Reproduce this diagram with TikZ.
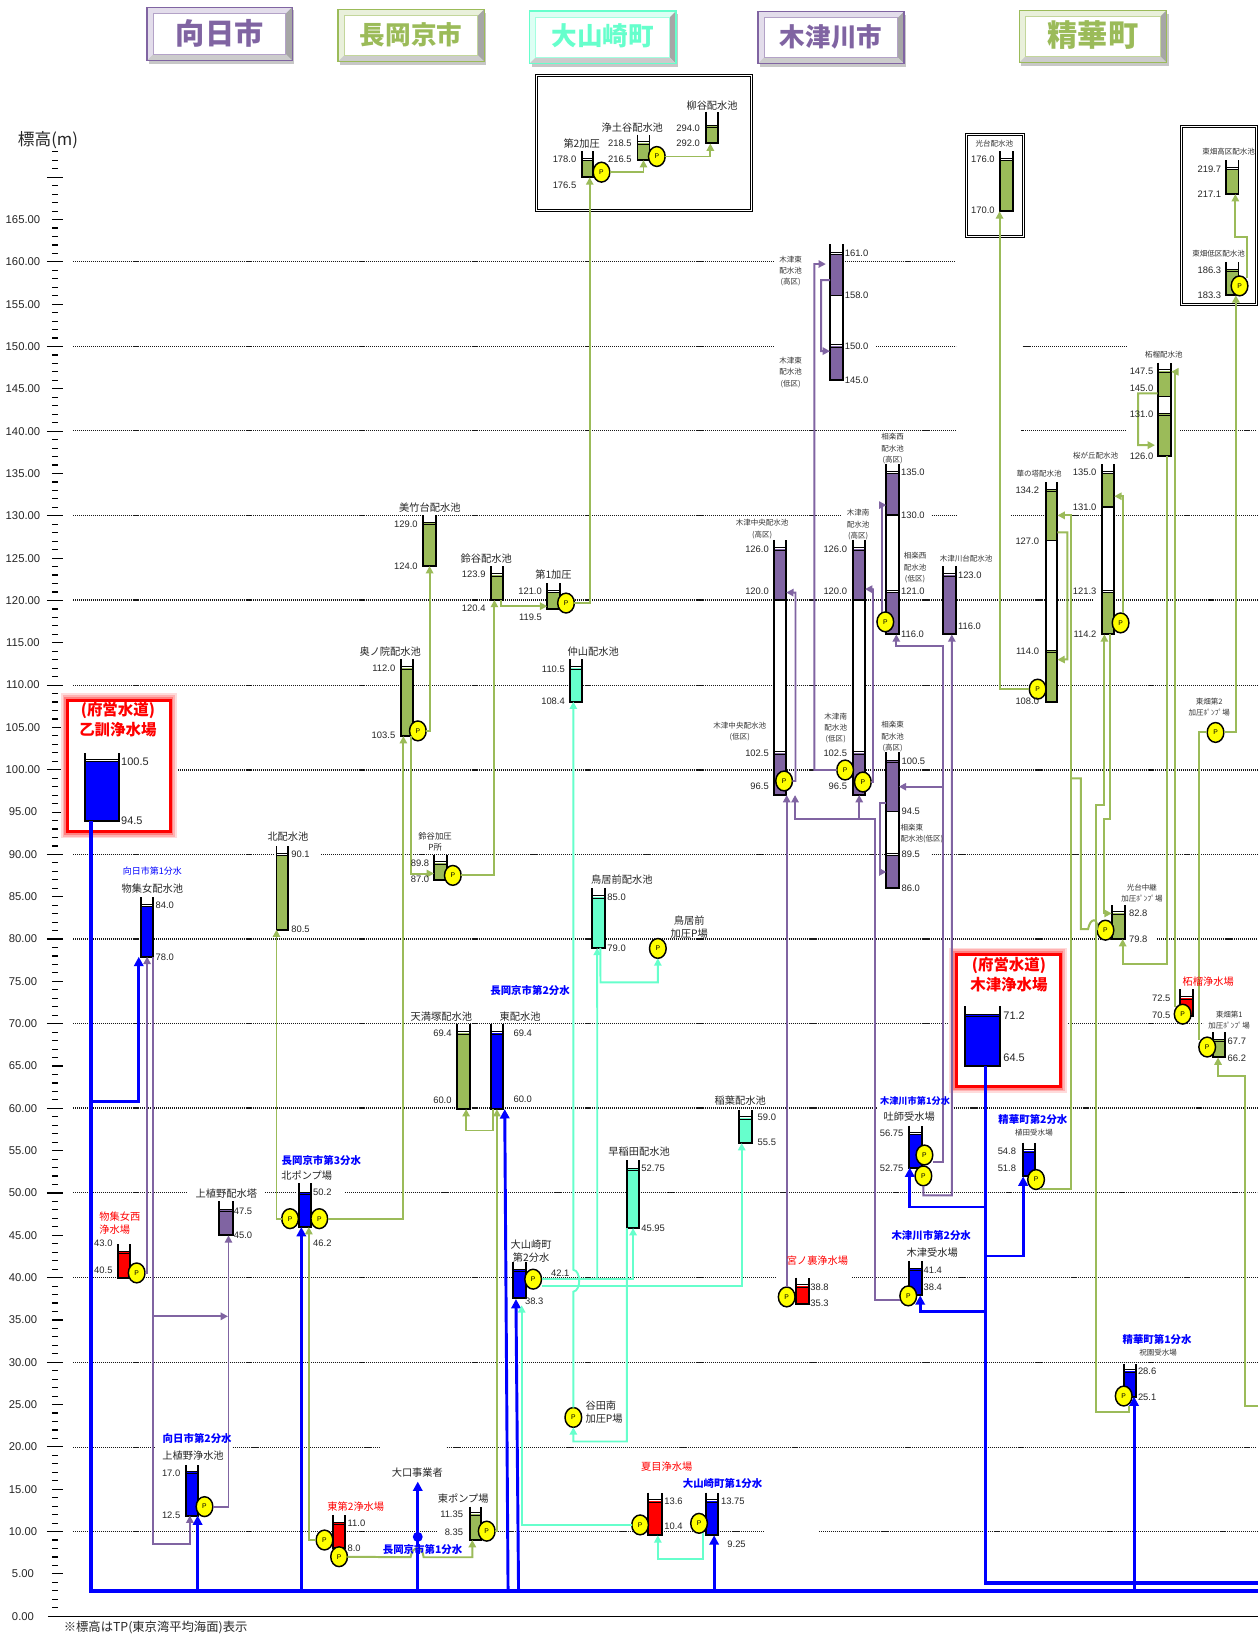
\documentclass[tikz,border=0pt]{standalone}
\usepackage{fontspec}
\setmainfont{Liberation Sans}
\newfontfamily\jp{Noto Sans CJK JP}
\usetikzlibrary{arrows.meta,calc,fit,shapes.geometric}
\definecolor{cP}{HTML}{8064A2}
\definecolor{cG}{HTML}{9BBB59}
\definecolor{cQ}{HTML}{66FFCC}
\definecolor{cB}{HTML}{0000FF}
\definecolor{cR}{HTML}{FF0000}
\definecolor{cY}{HTML}{FFFF00}
\tikzset{
  gridl/.style={black!90,line width=1.1pt,dash pattern=on 1pt off .9pt},
  tickl/.style={black,line width=1.1pt},
  wall/.style={black,line width=1.9pt,line join=miter},
  lvl/.style={black,line width=.7pt},
  tanknode/.style={inner sep=0,outer sep=0},
  pump/.style={ellipse,draw=black,line width=1.4pt,fill=cY,inner sep=0,outer sep=0,
    minimum width=16pt,minimum height=19pt,font=\fontsize{6.5}{6.5}\selectfont},
  frame/.style={draw=black,fill=white,double,double distance=.9pt,line width=.9pt},
  val/.style={font=\fontsize{9}{9}\selectfont,inner sep=0,text=black!85},
  valbig/.style={font=\fontsize{10.5}{10.5}\selectfont,inner sep=0,text=black!85},
  axl/.style={font=\fontsize{10.8}{10.8}\selectfont,inner sep=0,text=black!85},
  lbl/.style={font=\jp\fontsize{9.8}{12.5}\selectfont,inner sep=0,align=center,text=black!85},
  sml/.style={font=\jp\fontsize{7.2}{10.8}\selectfont,inner sep=0,align=center,text=black!80},
  bluel/.style={font=\jp\bfseries\fontsize{10}{10}\selectfont,inner sep=0,text=cB},
  redl/.style={font=\jp\fontsize{9.8}{12.5}\selectfont,inner sep=0,align=left,text=cR},
  redb/.style={font=\jp\bfseries\fontsize{14.8}{19}\selectfont,inner sep=0,align=center,text=cR},
  gline/.style={cG,line width=1.9pt},
  gpipe/.style={gline,-{Triangle[length=7pt,width=7pt]}},
  ppipe/.style={cP,line width=1.8pt,-{Triangle[length=7pt,width=7pt]}},
  qpipe/.style={cQ,line width=1.8pt,-{Triangle[length=7pt,width=7pt]}},
  bpipe/.style={cB,line width=2.8pt,-{Triangle[length=9pt,width=9pt]}},
  bmain/.style={cB,line width=3.6pt},
}
\newcommand{\tank}[7]{
  \fill[white] (#2,#4) rectangle (#3,#6);
  \fill[#7] (#2,#5) rectangle (#3,#6);
  \draw[lvl] (#2,#5-1.1) -- (#3,#5-1.1);
  \draw[lvl] (#2,#5+1.1) -- (#3,#5+1.1);
  \draw[wall] (#2,#4) -- (#2,#6) -- (#3,#6) -- (#3,#4);
  \node[fit={(#2,#4) (#3,#6)},tanknode] (#1) {};
}
\newcommand{\tankii}[9]{
  \fill[white] (#2,#4) rectangle (#3,#8);
  \fill[#9] (#2,#5) rectangle (#3,#6);
  \fill[#9] (#2,#7) rectangle (#3,#8);
  \draw[lvl] (#2,#5-1.1) -- (#3,#5-1.1);
  \draw[lvl] (#2,#5+1.1) -- (#3,#5+1.1);
  \draw[lvl] (#2,#7-1.1) -- (#3,#7-1.1);
  \draw[lvl] (#2,#7+1.1) -- (#3,#7+1.1);
  \draw[black,line width=1.4pt] (#2,#6) -- (#3,#6);
  \draw[wall] (#2,#4) -- (#2,#8) -- (#3,#8) -- (#3,#4);
  \node[fit={(#2,#4) (#3,#8)},tanknode] (#1) {};
}
\newcommand{\hdr}[8]{
  \fill[black!22] (#2+2,#3+3) rectangle (#4+2,#5+3);
  \fill[#6!22] (#2,#3) rectangle (#4,#5);
  \fill[black!35] (#4,#3) -- (#4,#5) -- (#4-6,#5-6) -- (#4-6,#3+6) -- cycle;
  \fill[black!20] (#2,#5) -- (#4,#5) -- (#4-6,#5-6) -- (#2+6,#5-6) -- cycle;
  \draw[#6,line width=1.2pt] (#2,#3) rectangle (#4,#5);
  \draw[#6!60,fill=white,line width=.8pt] (#2+6,#3+6) rectangle (#4-6,#5-6);
  \node[font=\jp\bfseries\fontsize{#7}{#7}\selectfont,text=#6,inner sep=0] (#1)
    at ({(#2+#4)/2},{(#3+#5)/2-1}) {#8};
}
\newcommand{\redbox}[4]{
  \draw[cR!14,line width=13pt] (#1,#2) rectangle (#3,#4);
  \draw[cR!30,line width=10pt] (#1,#2) rectangle (#3,#4);
  \draw[cR!50,line width=6.5pt] (#1,#2) rectangle (#3,#4);
  \draw[cR,line width=2.8pt,fill=white] (#1,#2) rectangle (#3,#4);
}
\begin{document}
\begin{tikzpicture}[x=1pt,y=-1pt]
  \useasboundingbox[fill=white] (0,0) rectangle (1206,1568);
  \foreach \y/\a/\b in {251/70/742,251/808/916,332/70/742,332/840/916,332/980/1080,
      413/70/916,413/979/1079,413/1131/1205,494/70/807,494/893/916,494/969/1205,
      575/70/1047,575/1068/1205,657/70/1205,738/70/1205,819/70/262,819/308/848,819/893/1205,
      900/70/1078,900/1109/1205,981/70/1153,1062/70/840,1062/914/1205,1143/70/180,1143/254/284,
      1143/331/1205,1224/70/743,1224/817/1205,1306/70/1205,1387/70/149,1387/223/364,
      1387/428/1205,1468/70/418,1468/475/732,1468/785/1205}
    {\draw[gridl] (\a,\y) -- (\b,\y);}
  \foreach \i in {1,...,173}
    {\draw[tickl] (50,{1549-8.1125*\i}) -- (56,{1549-8.1125*\i});}
  \foreach \i in {10,20,...,170}
    {\draw[tickl] (45,{1549-8.1125*\i}) -- (60,{1549-8.1125*\i});}
  \foreach \i in {5,15,...,165}
    {\draw[tickl] (50,{1549-8.1125*\i}) -- (60,{1549-8.1125*\i});}
  \draw[black,line width=1.1pt] (46,1549) -- (1206,1549);
  \foreach \v in {0,5,...,165}
    {\node[axl] (ax\v) at (22,{1549-8.1125*\v}) {\v.00};}
  \node[font=\jp\fontsize{16}{16}\selectfont,inner sep=0,text=black!85] (axT) at (46,134) {標高(m)};
  \node[font=\jp\fontsize{11.8}{12}\selectfont,inner sep=0,anchor=west,text=black!85] (noteT) at (61,1560) {※標高はTP(東京湾平均海面)表示};

  \hdr{hMuk}{141}{7}{280}{58}{cP}{28}{向日市}
  \hdr{hNag}{324}{9}{464}{59}{cG}{24.5}{長岡京市}
  \hdr{hOya}{507.5}{10.5}{648}{61}{cQ}{24.5}{大山崎町}
  \hdr{hKiz}{726.5}{11}{866.5}{61}{cP}{24.5}{木津川市}
  \hdr{hSei}{977}{10}{1118}{60}{cG}{29}{精華町}

  \redbox{65}{671}{163}{797}
  \redbox{916.5}{915}{1016}{1041}
  \draw[frame] (514.5,72.5) rectangle (720.5,202);
  \draw[frame] (926.5,129) rectangle (981,227);
  \draw[frame] (1132,121) rectangle (1204.5,292);

  \tank{tOto}{81}{114}{722}{729}{787}{cB}
  \tank{tMoz}{135}{147}{860}{868}{917}{cB}
  \tank{tKit}{265}{276}{811}{819}{891}{cG}
  \tank{tMzn}{113.5}{125}{1192.5}{1200}{1225}{cR}
  \tank{tKuh}{210}{223}{1151.5}{1160}{1184}{cP}
  \tank{tKnp}{287}{298}{1134}{1143.5}{1176}{cB}
  \tank{tKus}{178}{190}{1404}{1411}{1452.5}{cB}
  \tank{tHn2}{319}{331}{1452}{1460}{1484}{cR}
  \tank{tHnp}{450}{461}{1444}{1451}{1476}{cG}
  \tank{tTen}{438}{450.5}{981}{990}{1063}{cG}
  \tank{tHig}{470.5}{482}{981}{990}{1063}{cB}
  \tank{tOy2}{492}{504}{1210}{1217.5}{1244}{cB}
  \tank{tNat}{621.5}{634.5}{1430.5}{1438.5}{1471.5}{cR}
  \tank{tOy1}{676.5}{688}{1430.5}{1438.5}{1471.5}{cB}
  \tank{tWas}{601}{612.5}{1112}{1120.5}{1177}{cQ}
  \tank{tIna}{708.5}{720.5}{1063.5}{1071.5}{1095.5}{cQ}
  \tank{tBik}{405.5}{418}{494}{501.5}{542.5}{cG}
  \tank{tSuz}{470.5}{482}{542.5}{551}{575}{cG}
  \tank{tKa1}{524.5}{536.5}{559}{567}{584}{cG}
  \tank{tOku}{384}{396}{632}{640}{705.5}{cG}
  \tank{tNak}{546.5}{558}{632}{640}{672.5}{cQ}
  \tank{tSkp}{416}{428.5}{819}{827}{843.5}{cG}
  \tank{tTor}{567.5}{580}{851.5}{859.5}{908.5}{cQ}
  \tank{tKa2}{557.5}{568.5}{145}{153}{170}{cG}
  \tank{tJod}{611}{622.5}{129}{137}{153.5}{cG}
  \tank{tYan}{677}{688}{107}{121}{137.5}{cG}
  \tank{tKod}{958}{970.5}{145}{153}{202.5}{cG}
  \tank{tHth}{1175}{1187}{153.5}{161.5}{186}{cG}
  \tank{tHtl}{1175}{1187}{251}{259}{283}{cG}
  \tankii{tKhg}{795.5}{808}{234}{243}{283}{331.5}{364.5}{cP}
  \tankii{tKch}{742}{753.5}{517.5}{526}{575}{721.5}{762}{cP}
  \tankii{tKmn}{818}{829}{517.5}{526}{575}{721.5}{762}{cP}
  \tankii{tSnw}{849.5}{861.5}{445}{453}{493.5}{567}{608}{cP}
  \tankii{tSgh}{849.5}{861.5}{721}{729.5}{778}{819}{851}{cP}
  \tank{tKkd}{904}{916.5}{542.5}{551}{608}{cP}
  \tankii{tHan}{1002.5}{1013.5}{462}{470}{518}{624}{672.5}{cG}
  \tankii{tSak}{1056}{1068}{445}{453}{486}{567}{608}{cG}
  \tankii{tZak}{1109.5}{1122.5}{347.5}{355.5}{380}{397}{437}{cG}
  \tank{tKcp}{1065.5}{1078}{867.5}{875}{900}{cG}
  \tank{tKiz}{925}{958.5}{964.5}{973}{1022}{cB}
  \tank{tHbs}{871}{883.5}{1079}{1086.5}{1119}{cB}
  \tank{tUet}{980}{991.5}{1095}{1103}{1127.5}{cB}
  \tank{tKjw}{871}{883.5}{1209}{1216.5}{1241.5}{cB}
  \tank{tMiy}{763}{775}{1224.5}{1232.5}{1249.5}{cR}
  \tank{tHos}{1077}{1089}{1307}{1314}{1338.5}{cB}
  \tank{tZaj}{1130.5}{1143}{948}{956.5}{973.5}{cR}
  \tank{tHt1}{1163}{1174.5}{989.5}{997}{1013.5}{cG}

  \foreach \n/\x/\y in {pMzn/131/1220,pKnl/278/1168,pKnr/306/1168,pKus/196/1444,pHnl/311/1476,
      pHnd/325/1492,pHnp/466.5/1467.5,pOy2/511/1226,pTnm/549.5/1358.5,pNat/613.5/1461.5,
      pOy1/670/1460,pOku/400.5/700.5,pSkp/434/839,pKa1/542.5/578,pTor/630.5/909,pKa2/576.5/165,
      pJod/629.5/150,pKch/751.5/748.5,pKml/810/738,pKmr/827/749.5,pSnw/848.5/596,pHan/994.5/660.5,
      pSak/1074/597,pHt2/1165/702,pKcp/1059.5/891.5,pHtl/1188/274,pHb1/886/1107,pHb2/885/1127,
      pUet/993/1130.5,pKjw/870.5/1242,pMiy/754/1243,pHos/1077/1338,pZaj/1133.5/972,pHt1/1157/1003.5}
    {\node[pump] (\n) at (\x,\y) {P};}

  \coordinate (mEnd) at (1206,1525);
  \coordinate (kEnd) at (1206,1517);
  \coordinate (oEnd) at (400.4,1420);
  \node[circle,fill=cB,inner sep=0,minimum size=9.5pt] (oDot) at (400.4,1473) {};
  \draw[bmain] ([xshift=-10.5pt]tOto.south) |- (mEnd);
  \draw[bmain] ([xshift=2.75pt]tKiz.south) |- (kEnd);
  \coordinate (jA) at (87,1056);
  \draw[bpipe] (jA) -| ([xshift=-8pt]tMoz.south);
  \draw[bpipe] ([xshift=5.4pt]tKus.south |- mEnd) -- ([xshift=5.4pt]tKus.south);
  \draw[bpipe] ([xshift=-3.7pt]tKnp.south |- mEnd) -- ([xshift=-3.7pt]tKnp.south);
  \draw[bpipe] (oEnd |- mEnd) -- (oEnd);
  \draw[bpipe] ([xshift=10.7pt]tHig.south |- mEnd) -- ([xshift=7.5pt]tHig.south);
  \draw[bpipe] ([xshift=-1pt]tOy2.south |- mEnd) -- ([xshift=-3.5pt,yshift=-1pt]tOy2.south);
  \draw[bpipe] ([xshift=2.2pt]tOy1.south |- mEnd) -- ([xshift=2.2pt]tOy1.south);
  \draw[bpipe] ([xshift=3.9pt]tHos.south |- mEnd) -- ([xshift=3.9pt]tHos.south);
  \coordinate (kA) at (944.3,1156.8);
  \coordinate (kB) at (944.3,1203.8);
  \coordinate (kC) at (944.3,1256.6);
  \draw[bpipe] (kA) -| ([xshift=-5.3pt]tHbs.south);
  \draw[bpipe] (kB) -| ([xshift=-5.15pt]tUet.south);
  \draw[bpipe] (kC) -| ([xshift=4.7pt]tKjw.south);

  \draw[gpipe] (pHnl) -| ([xshift=3.5pt]tKnp.south);
  \draw[gpipe] (pHnd) -- (393.5,1492.5) .. controls (395,1481) and (405,1481) .. (406,1492.5) -| ([xshift=-2.8pt]tHnp.south);
  \draw[gpipe] (pKnl) -| ([xshift=-5.5pt]tKit.south);
  \draw[gpipe] (pKnr) -| ([xshift=-3.4pt]tOku.south);
  \draw[gpipe] (pOku) -| (tBik.south);
  \draw[gpipe] ([xshift=3.7pt]tOku.south) |- ([yshift=-6pt]tSkp.west);
  \draw[gpipe] (pSkp) -| ([xshift=-2.4pt]tSuz.south);
  \draw[gpipe] ([xshift=3.8pt]tSuz.south) |- ([yshift=-9.5pt]tKa1.west);
  \draw[gpipe] (pKa1) -| ([xshift=2.2pt]tKa2.south);
  \draw[gpipe] (pKa2) -| (tJod.south);
  \draw[gpipe] (pJod) -| ([xshift=-1.7pt]tYan.south);
  \draw[gpipe] (pHnp) -| (tHig.south);
  \draw[gpipe] ([xshift=-4pt]tHig.south) -- ++(0,20.5) -| ([xshift=2.5pt]tTen.south);
  \draw[gpipe] (pHan) -| ([xshift=-6.25pt]tKod.south);
  \draw[gpipe] (pUet.-60) |- (1026.4,1139.6) |- ([yshift=73.3pt]tHan.east);
  \coordinate (jB) at (1026.4,746);
  \draw[gline] (jB) -- (1036,746) -- (1036,890.6) -- (1042.8,890.6) .. controls (1045,879) and (1053,879) .. (pKcp.west);
  \draw[gpipe] ([yshift=57pt]tHan.east) -| (1023,632) -- ([yshift=-65pt]tHan.east);
  \draw[gpipe] ([xshift=2.3pt]pSak.north) |- ([yshift=50.9pt]tSak.east);
  \draw[gpipe] ([xshift=5.2pt]pHos.south) |- (1050.4,1353.4) -- (1050.4,772) -| ([xshift=-3.5pt]tSak.south);
  \draw[gpipe] ([xshift=2pt]tSak.south) -- (1064,784.5) -- (1057.7,784.5) |- ([yshift=8.3pt]tKcp.west);
  \draw[gpipe] ([xshift=2.5pt]tZak.south) -- (1118.5,924) -| ([xshift=4.25pt]tKcp.south);
  \draw[gpipe] ([xshift=-6.9pt,yshift=-3pt]pZaj.north) |- ([yshift=35.9pt]tZak.east);
  \draw[gpipe] ([yshift=15.3pt]tZak.west) -| (1090.7,426.6) -- ([xshift=-2.5pt,yshift=-34.4pt]tZak.west);
  \draw[gline] (pHt2) -| ([xshift=-7.5pt,yshift=-3pt]pHt1.north);
  \draw[gpipe] (pHt2) -| ([xshift=3.5pt]tHtl.south);
  \draw[gpipe] ([xshift=6.7pt,yshift=-2pt]pHtl.north) -- (1194.7,227) -| ([xshift=3pt]tHth.south);
  \coordinate (eA) at (1206,1347.6);
  \draw[gpipe] (eA) -| (1193,1031.6) -| ([xshift=-1.35pt]tHt1.south);

  \draw[ppipe] (pMzn) -| (tMoz.south);
  \draw[ppipe] ([xshift=5.8pt]tMoz.south) -- (146.8,1479.6) -| ([xshift=-2pt]tKus.south);
  \coordinate (jC) at (146.8,1261.6);
  \coordinate (jD) at (218.5,1261.6);
  \draw[ppipe] (jC) -- (jD);
  \draw[ppipe] (pKus) -| ([xshift=2.5pt]tKuh.south);
  \draw[ppipe] (pKch) -| (762.4,568) -- ([yshift=71.85pt]tKch.east);
  \draw[ppipe] (pKmr) -| (836.7,564.7) -- ([yshift=75.15pt]tKmn.east);
  \draw[ppipe] (pKml) -| (780.5,253) -- ([xshift=-4pt,yshift=46.15pt]tKhg.west);
  \draw[ppipe] ([yshift=30.75pt]tKhg.west) -| (787,336.5) -- ([yshift=-37.35pt]tKhg.west);
  \draw[ppipe] ([xshift=-2.9pt]pSnw.north) |- ([yshift=42.4pt]tSnw.west);
  \draw[ppipe] ([yshift=-6.7pt]pHb1.east) -- (903.6,1113.7) -- (903.6,619) -| ([xshift=3.55pt]tSnw.south);
  \coordinate (jE) at (903.6,754);
  \draw[ppipe] (jE) -- ([yshift=32pt]tSgh.east);
  \draw[ppipe] (pHb2.south) |- (912.3,1145.7) -- ([xshift=2pt]tKkd.south);
  \draw[ppipe] ([yshift=-4pt]pKjw.west) -| (838.9,785) -| ([xshift=14.25pt]tKch.south);
  \coordinate (jF) at (823.5,785);
  \draw[ppipe] (jF) -- (tKmn.south);
  \draw[ppipe] (pMiy.north) -- (pMiy.north |- tKch.south);
  \draw[ppipe] ([yshift=16pt]tSgh.west) -| (843.6,835.7) -- ([yshift=-49.7pt]tSgh.west);

  \draw[qpipe] (pNat) -| ([xshift=2pt,yshift=-7pt]tOy2.south);
  \draw[qpipe] ([xshift=4pt]pOy1.south) -- (674,1494.6) -| ([xshift=2.5pt]tNat.south);
  \draw[qpipe] (pOy2) -| (tWas.south);
  \coordinate (jG) at (572.4,1226);
  \draw[qpipe] (jG) -- ([xshift=-1.4pt]tTor.south);
  \draw[qpipe] ([yshift=-6.8pt]pOy2.east) -| ([xshift=-3.6pt]tIna.south);
  \draw[qpipe] (pTnm.north) -- (549.5,1238) .. controls (557,1237) and (557,1218) .. (549.5,1217) -- ([xshift=-2.75pt]tNak.south);
  \draw[qpipe] ([xshift=-5.9pt]tWas.south) -- (600.8,1381.6) -| (pTnm.south);
  \draw[qpipe] ([xshift=1.6pt]tTor.south) -- (575.5,941.5) -| (pTor.south);

  \node[valbig,anchor=west] (vOt1) at (116,730) {100.5};
  \node[valbig,anchor=west] (vOt2) at (116,787) {94.5};
  \node[valbig,anchor=west] (vKz1) at (961.5,973) {71.2};
  \node[valbig,anchor=west] (vKz2) at (961.5,1014) {64.5};
  \foreach \x/\y/\v [count=\i] in {149/868/84.0,149/917/78.0,279/819/90.1,279/891/80.5,224/1161/47.5,
      224/1184/45.0,300/1143/50.2,300/1192/46.2,333/1460/11.0,333/1484/8.0,492/990/69.4,492/1054/60.0,
      528/1220/42.1,503/1247/38.3,636.5/1439/13.6,636.5/1463/10.4,691/1439/13.75,697/1480/9.25,
      614.5/1120/52.75,614.5/1177.5/45.95,726/1071/59.0,726/1095/55.5,582/859.5/85.0,582/908.5/79.0,
      809.5/243/161.0,809.5/283/158.0,809.5/332/150.0,809.5/364/145.0,863.5/453/135.0,863.5/494/130.0,
      863.5/567/121.0,863.5/608/116.0,864/730/100.5,864/778/94.5,864/819/89.5,864/851/86.0,
      918/551/123.0,918/600/116.0,1082/875/82.8,1082/900/79.8,885/1217/41.4,885/1233.5/38.4,
      776.5/1233.5/38.8,776.5/1249.5/35.3,1090.5/1314/28.6,1090.5/1339/25.1,1176.5/997.5/67.7,
      1176.5/1014/66.2}
    {\node[val,anchor=west] (vr\i) at (\x,\y) {\v};}
  \foreach \x/\y/\v [count=\i] in {108/1192/43.0,108/1217/40.5,173/1412/17.0,173/1452/12.5,444/1451.5/11.35,
      444/1468.5/8.35,433/990/69.4,433/1054.5/60.0,400.5/502.5/129.0,400.5/543/124.0,465.5/550.5/123.9,
      465.5/583/120.4,519.5/567/121.0,519.5/591.5/119.5,379/640.5/112.0,379/705/103.5,541.5/641/110.5,
      541.5/672.5/108.4,411.5/827/89.8,411.5/843/87.0,552.5/153/178.0,552.5/178/176.5,605.5/137.5/218.5,
      605.5/153/216.5,671/122.5/294.0,671/137.5/292.0,737/526/126.0,737/567/120.0,737/721.5/102.5,
      737/754/96.5,812/526/126.0,812/567/120.0,812/721.5/102.5,812/754/96.5,996/470/134.2,996/518.5/127.0,
      996/624.5/114.0,996/672.5/108.0,1051/453/135.0,1051/486/131.0,1051/567/121.3,1051/608/114.2,
      953.5/153/176.0,953.5/202/170.0,1170.5/162/219.7,1170.5/186/217.1,1170.5/259/186.3,1170.5/283/183.3,
      1105.5/356/147.5,1105.5/372/145.0,1105.5/397/131.0,1105.5/437/126.0,866/1086.5/56.75,866/1119.5/52.75,
      974/1103.5/54.8,974/1119.5/51.8,1122/956.5/72.5,1122/973.5/70.5}
    {\node[val,anchor=east] (vl\i) at (\x,\y) {\v};}

  \foreach \x/\y/\s [count=\i] in {146/852/物集女配水池,276/802/北配水池,217/1144/上植野配水塔,294/1127/北ポンプ場,
      185/1395/上植野浄水池,400/1411/大口事業者,444/1436/東ポンプ場,423/974/天満塚配水池,498.5/974/東配水池,
      612.5/1103.5/早稲田配水池,709.5/1054.5/稲葉配水池,412/486.5/美竹台配水池,466/535/鈴谷配水池,
      530.5/550.5/第1加圧,374/624.5/奥ノ院配水池,568.5/624.5/仲山配水池,596/843/鳥居前配水池,
      871.5/1070.5/吐師受水場,893.5/1200.5/木津受水場,557.5/138/第2加圧,606/122/浄土谷配水池,682.5/101/柳谷配水池}
    {\node[lbl] (tl\i) at (\x,\y) {\s};}
  \node[lbl] (tlOy) at (509,1199) {大山崎町\\第2分水};
  \node[lbl] (tlTp) at (660.5,888.5) {鳥居前\\加圧P場};
  \node[lbl,anchor=west,align=left] (tlTn) at (561,1353.5) {谷田南\\加圧P場};

  \foreach \x/\y/\s [count=\i] in {953/137.5/光台配水池,1177.5/145/東畑高区配水池,1168/243/東畑低区配水池,1115.5/339.5/柘榴配水池,
      1050/437/桜が丘配水池,996/453.5/華の塔配水池,926/535/木津川台配水池,991/1085.5/植田受水場,1110/1296/祝園受水場}
    {\node[sml] (sl\i) at (\x,\y) {\s};}
  \node[sml] (slKh) at (757.8,259.8) {木津東\\配水池\\(高区)};
  \node[sml] (slKl) at (757.8,357) {木津東\\配水池\\(低区)};
  \node[sml] (slCh) at (730.5,507) {木津中央配水池\\(高区)};
  \node[sml] (slCl) at (709,701.5) {木津中央配水池\\(低区)};
  \node[sml] (slMh) at (822.5,503) {木津南\\配水池\\(高区)};
  \node[sml] (slMl) at (801,698) {木津南\\配水池\\(低区)};
  \node[sml] (slSh) at (855.5,430) {相楽西\\配水池\\(高区)};
  \node[sml] (slSl) at (877,544) {相楽西\\配水池\\(低区)};
  \node[sml] (slEh) at (855.5,706) {相楽東\\配水池\\(高区)};
  \node[sml,anchor=west,align=left] (slEl) at (863,799) {相楽東\\配水池(低区)};
  \node[sml] (slP2) at (1159,678) {東畑第2\\加圧ﾎﾟﾝﾌﾟ場};
  \node[sml] (slP1) at (1178,977.5) {東畑第1\\加圧ﾎﾟﾝﾌﾟ場};
  \node[sml] (slPk) at (1094.5,856) {光台中継\\加圧ﾎﾟﾝﾌﾟ場};
  \node[lbl,font=\jp\fontsize{8}{11}\selectfont] (slSp) at (417,807) {鈴谷加圧\\P所};

  \foreach \x/\y/\s [count=\i] in {189/1379/向日市第2分水,308/1112/長岡京市第3分水,508/949/長岡京市第2分水,
      405/1485/長岡京市第1分水,692.5/1422/大山崎町第1分水,892.5/1184.5/木津川市第2分水,990/1073/精華町第2分水,1109/1283.5/精華町第1分水}
    {\node[bluel] (bl\i) at (\x,\y) {\s};}
  \node[bluel,font=\jp\bfseries\fontsize{8.8}{9}\selectfont] (blKz1) at (877,1055) {木津川市第1分水};
  \node[bluel,font=\jp\fontsize{8.6}{9}\selectfont] (blMu1) at (146,835) {向日市第1分水};

  \node[redl,anchor=west] (rlMz) at (95,1172) {物集女西\\浄水場};
  \node[redl] (rlH2) at (341,1444) {東第2浄水場};
  \node[redl] (rlNt) at (639,1406) {夏目浄水場};
  \node[redl] (rlMy) at (783.5,1208) {宮ノ裏浄水場};
  \node[redl] (rlZk) at (1158,940.5) {柘榴浄水場};
  \node[redb] (rbOt) at (113,689.5) {(府営水道)\\乙訓浄水場};
  \node[redb] (rbKz) at (967,934) {(府営水道)\\木津浄水場};
\end{tikzpicture}
\end{document}
